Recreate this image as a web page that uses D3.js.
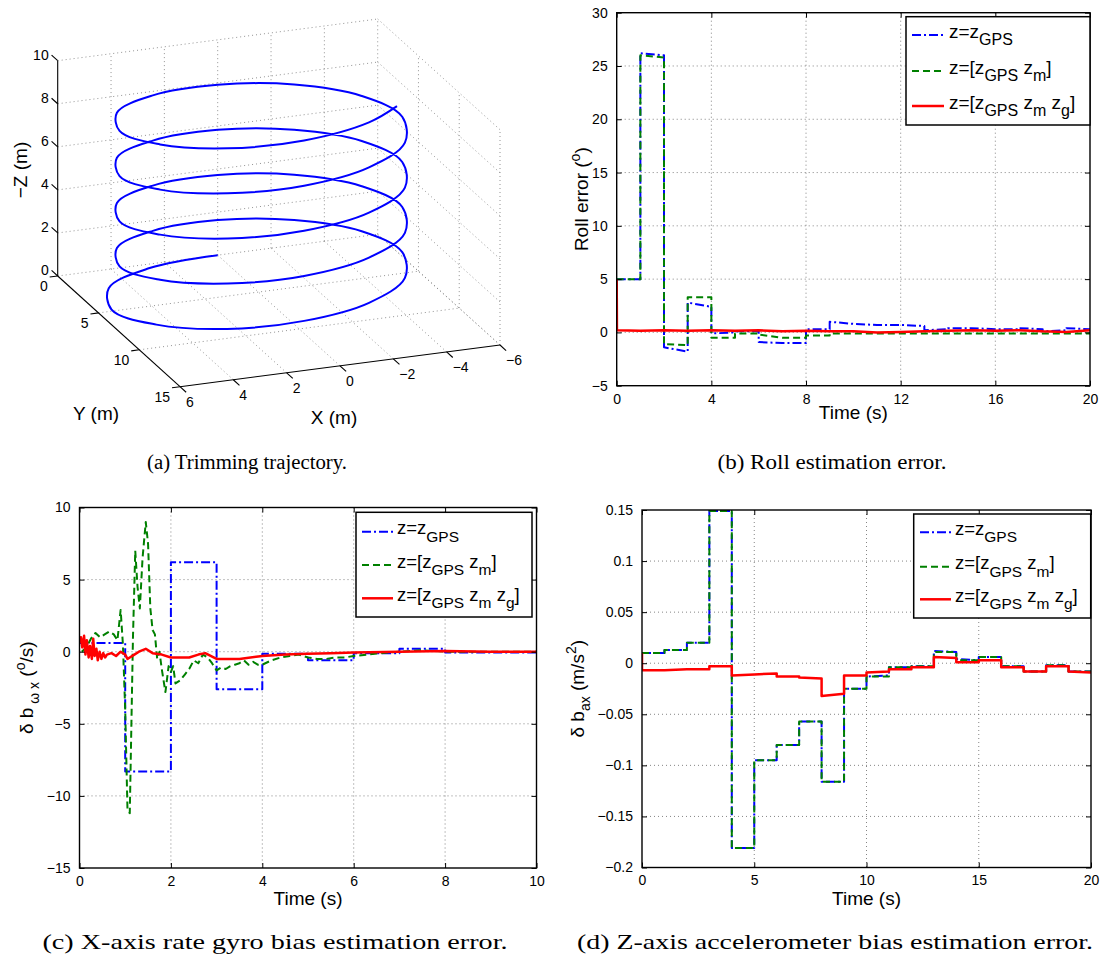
<!DOCTYPE html>
<html><head><meta charset="utf-8">
<script src="https://cdn.jsdelivr.net/npm/d3@7"></script>
<style>
body{margin:0;background:#fff}
svg text{font-family:"Liberation Sans",Arial,Helvetica,sans-serif;fill:#000}
</style>
</head><body>
<svg id="fig" width="1105" height="965"></svg>
<script>
// ================= DATA =================
// (a) trimming trajectory (helix), sampled points read from the picture
const helixX = [0,2.73,4.85,5.60,4.76,2.68,0,-2.65,-4.59,-5.3,-4.59,-2.65,0,2.65,4.59,5.3,4.59,2.65,0,-2.65,-4.59,-5.3,-4.59,-2.65,0,2.65,4.59,5.3,4.59,2.65,0,-2.65,-4.59,-5.3,-4.59,-2.65,0,2.65,4.59,5.3,4.59,2.65,0,-2.65,-4.59,-5.3,-4.59,-2.65,0,2.65,4.59,5.3,4.59,2.65,0,-2.65,-4.06];
const helixY = [0,0.58,2.50,5.30,8.05,9.93,10.6,9.89,7.95,5.3,2.65,0.71,0,0.71,2.65,5.3,7.95,9.89,10.6,9.89,7.95,5.3,2.65,0.71,0,0.71,2.65,5.3,7.95,9.89,10.6,9.89,7.95,5.3,2.65,0.71,0,0.71,2.65,5.3,7.95,9.89,10.6,9.89,7.95,5.3,2.65,0.71,0,0.71,2.65,5.3,7.95,9.89,10.6,9.89,8.71];
const helixZ = [0.00,0.04,0.10,0.19,0.30,0.41,0.58,0.75,0.93,1.10,1.28,1.45,1.63,1.80,1.98,2.15,2.32,2.50,2.67,2.85,3.02,3.20,3.37,3.55,3.72,3.90,4.07,4.24,4.42,4.59,4.77,4.94,5.12,5.29,5.47,5.64,5.82,5.99,6.17,6.34,6.51,6.69,6.86,7.04,7.21,7.39,7.56,7.74,7.91,8.09,8.26,8.44,8.61,8.78,8.96,9.13,9.25];
const trajXTicks = [6,4,2,0,-2,-4,-6];
const trajYTicks = [0,5,10,15];
const trajZTicks = [0,2,4,6,8,10];

// (b) roll estimation error, one step per second
const rollSegT = [0,1,2,3,4,5,6,7,8,9,10,11,12,13,14,15,16,17,18,19];
const rollGpsStart = [5.0,26.2,-1.4,2.8,-0.1,0.1,-0.9,-1.0,0.3,1.0,0.8,0.7,0.7,0.2,0.4,0.4,0.3,0.4,0.1,0.4];
const rollGpsEnd   = [5.0,26.0,-1.8,2.4,0.0,0.1,-1.0,-1.0,0.3,0.8,0.7,0.7,0.6,0.3,0.4,0.3,0.3,0.3,0.2,0.3];
const rollMagStart = [5.0,26.0,-1.1,3.3,-0.5,-0.1,-0.2,-0.5,-0.3,-0.1,-0.1,-0.1,-0.1,-0.1,-0.1,-0.1,-0.1,-0.1,-0.1,-0.1];
const rollMagEnd   = [5.0,25.8,-1.2,3.3,-0.5,-0.1,-0.5,-0.5,-0.3,-0.1,-0.1,-0.1,-0.1,-0.1,-0.1,-0.1,-0.1,-0.1,-0.1,-0.1];
const rollFullT = [0,0.01,1,2,3,4,5,6,7,8,9,10,11,12,13,14,15,16,17,18,19,20];
const rollFullV = [5.0,0.2,0.15,0.2,0.15,0.2,0.15,0.2,0.1,0.15,0.1,0.1,0.0,0.05,0.1,0.15,0.2,0.15,0.2,0.1,0.05,0.2];
const rollXTicks = [0,4,8,12,16,20];
const rollYTicks = [-5,0,5,10,15,20,25,30];

// (c) x-axis rate gyro bias error
const gyroGpsT = [0,1,2,3,4,5,6,7,8,10];
const gyroGpsV = [0.6,-8.3,6.2,-2.6,-0.15,-0.6,-0.1,0.2,-0.05];
const gyroMagT = [0.05,0.15,0.25,0.35,0.45,0.55,0.65,0.75,0.83,0.9,0.95,1.0,1.05,1.1,1.13,1.17,1.22,1.27,1.32,1.38,1.45,1.5,1.55,1.6,1.65,1.7,1.75,1.8,1.88,1.95,2.0,2.05,2.1,2.2,2.3,2.4,2.5,2.6,2.7,2.8,2.9,3.0,3.1,3.2,3.3,3.4,3.5,3.6,3.7,3.8,3.9,4.0,4.2,4.4,4.6,4.8,5.0,5.2,5.4,5.6,5.8,6.0,6.3,6.6,7.0,7.5,8.0,9.0,10.0];
const gyroMagV = [0.0,0.3,0.9,1.3,1.0,1.2,1.4,1.2,0.8,2.9,0.5,-4.0,-11.0,-11.2,-6.0,1.0,7.0,4.5,3.0,6.5,9.0,7.5,3.0,1.5,1.2,-0.5,0.0,-1.2,-2.8,-1.0,-1.4,-1.0,-2.2,-2.0,-1.6,-1.2,-0.6,-0.8,-0.2,-0.4,-0.8,-1.3,-1.1,-1.2,-1.0,-0.9,-0.8,-0.6,-0.9,-0.7,-0.9,-0.9,-0.6,-0.4,-0.3,-0.2,-0.4,-0.5,-0.5,-0.4,-0.4,-0.3,-0.2,-0.1,0.0,0.1,0.0,0.0,0.0];
const gyroFullT = [0,0.03,0.06,0.1,0.13,0.16,0.2,0.23,0.27,0.3,0.33,0.37,0.4,0.44,0.48,0.52,0.56,0.6,0.7,0.8,0.9,1.0,1.05,1.1,1.2,1.3,1.45,1.6,1.8,2.0,2.2,2.4,2.6,2.75,3.0,3.2,3.5,4.0,4.5,5.0,5.5,6.0,7.0,8.0,9.0,10.0];
const gyroFullV = [0.6,1.0,0.3,1.1,-0.2,0.8,-0.4,0.4,-0.5,0.9,-0.3,0.2,-0.6,0.0,-0.5,-0.1,-0.4,-0.2,-0.1,-0.3,0.0,-0.2,-0.5,-0.4,-0.2,0.0,0.2,-0.1,-0.2,-0.4,-0.4,-0.4,-0.2,-0.1,-0.5,-0.5,-0.5,-0.3,-0.2,-0.15,-0.1,-0.05,0.0,0.05,0.0,0.0];
const gyroXTicks = [0,2,4,6,8,10];
const gyroYTicks = [-15,-10,-5,0,5,10];

// (d) z-axis accelerometer bias error, one step per second
const accSegT = [0,1,2,3,4,5,6,7,8,9,10,11,12,13,14,15,16,17,18,19];
const accGpsStart = [0.010,0.013,0.020,0.149,-0.181,-0.095,-0.080,-0.057,-0.116,-0.025,-0.013,-0.004,-0.003,0.012,0.004,0.006,-0.003,-0.008,-0.002,-0.008];
const accGpsEnd   = [0.010,0.013,0.020,0.149,-0.181,-0.095,-0.080,-0.057,-0.116,-0.025,-0.012,-0.004,-0.003,0.011,0.003,0.006,-0.003,-0.008,-0.002,-0.008];
const accMagStart = [0.010,0.013,0.020,0.149,-0.181,-0.095,-0.080,-0.057,-0.116,-0.025,-0.013,-0.004,-0.003,0.011,0.003,0.006,-0.003,-0.008,-0.002,-0.008];
const accMagEnd   = [0.010,0.013,0.020,0.149,-0.181,-0.095,-0.080,-0.057,-0.116,-0.025,-0.013,-0.004,-0.003,0.011,0.003,0.006,-0.003,-0.008,-0.002,-0.008];
const accFullLead = 0.010;
const accFullStart = [-0.007,-0.007,-0.006,-0.003,-0.012,-0.011,-0.013,-0.014,-0.032,-0.012,-0.009,-0.006,-0.004,0.006,0.001,0.003,-0.004,-0.008,-0.003,-0.008];
const accFullEnd   = [-0.007,-0.006,-0.006,-0.003,-0.011,-0.010,-0.013,-0.015,-0.030,-0.012,-0.008,-0.006,-0.004,0.005,0.001,0.003,-0.004,-0.008,-0.003,-0.009];
const accXTicks = [0,5,10,15,20];
const accYTicks = [-0.2,-0.15,-0.1,-0.05,0,0.05,0.1,0.15];

const legendLabels = [
  [["z=z",0],["GPS",1]],
  [["z=[z",0],["GPS",1],[" z",0],["m",1],["]",0]],
  [["z=[z",0],["GPS",1],[" z",0],["m",1],[" z",0],["g",1],["]",0]]
];

// ================= STYLE =================
const sty = {
  gps:  {c:"#0000ff", d:"9,3,2,3", w:2},
  mag:  {c:"#008000", d:"7,4", w:2},
  full: {c:"#ff0000", d:null, w:2.5}
};
const minus = v => String(v).replace("-", "\u2212");
const svg = d3.select("#fig");
svg.append("rect").attr("width",1105).attr("height",965).attr("fill","#fff");

function segPoints(T, S, E){ const p=[]; T.forEach((t,i)=>{p.push([t,S[i]]); p.push([t+1,E[i]]);}); return p; }
function stepPoints(T, V){ const p=[]; V.forEach((v,i)=>{p.push([T[i],v]); p.push([T[i+1],v]);}); return p; }
function zipPts(T, V){ return T.map((t,i)=>[t,V[i]]); }

// rich text with relative baseline shifts (0 normal, 1 subscript, 2 superscript)
function rich(textSel, segs, fs, sfs, subOff, supOff){
  let cur = 0;
  segs.forEach(s=>{
    const off = s[1]===1 ? subOff : s[1]===2 ? -supOff : 0;
    const ts = textSel.append("tspan").attr("dy", off-cur).text(s[0]);
    ts.style("font-size", (s[1]? sfs : fs)+"px");
    cur = off;
  });
}

function drawPanel(o){
  const g = svg.append("g");
  const x = d3.scaleLinear().domain(o.xDomain).range([o.left,o.right]);
  const y = d3.scaleLinear().domain(o.yDomain).range([o.bottom,o.top]);
  const id = "clip"+o.name;
  svg.append("clipPath").attr("id",id).append("rect")
    .attr("x",o.left).attr("y",o.top-1).attr("width",o.right-o.left).attr("height",o.bottom-o.top+2);
  // grid
  const grid = g.append("g").attr("stroke","#666").attr("stroke-width",0.8).attr("stroke-dasharray","1,3");
  o.xTicks.filter(t=>t!==o.xDomain[0]&&t!==o.xDomain[1]).forEach(t=>{
    grid.append("line").attr("x1",x(t)).attr("x2",x(t)).attr("y1",o.top).attr("y2",o.bottom);
  });
  o.yTicks.filter(t=>t!==o.yDomain[0]&&t!==o.yDomain[1]).forEach(t=>{
    grid.append("line").attr("y1",y(t)).attr("y2",y(t)).attr("x1",o.left).attr("x2",o.right);
  });
  // series
  const line = d3.line().x(d=>x(d[0])).y(d=>y(d[1]));
  const sg = g.append("g").attr("clip-path","url(#"+id+")");
  o.series.forEach(s=>{
    sg.append("path").attr("d", line(s.pts)).attr("fill","none")
      .attr("stroke", s.st.c).attr("stroke-width", s.st.w)
      .attr("stroke-dasharray", s.st.d).attr("stroke-linejoin","round");
  });
  // axes (inward ticks)
  const fmt = v => minus(v);
  const ax = (gen, tx, ty) => {
    const a = g.append("g").attr("transform",`translate(${tx},${ty})`).call(gen);
    a.select(".domain").remove();
    a.selectAll("line").attr("stroke","#000").attr("stroke-width",1);
    a.selectAll("text").style("font-size","14px").style("font-family",'"Liberation Sans",Arial,sans-serif').attr("fill","#000");
    return a;
  };
  ax(d3.axisBottom(x).tickValues(o.xTicks).tickSize(-5).tickPadding(8).tickFormat(fmt), 0, o.bottom);
  ax(d3.axisTop(x).tickValues(o.xTicks).tickSize(-5).tickFormat(""), 0, o.top);
  ax(d3.axisLeft(y).tickValues(o.yTicks).tickSize(-5).tickPadding(9).tickFormat(fmt), o.left, 0);
  ax(d3.axisRight(y).tickValues(o.yTicks).tickSize(-5).tickFormat(""), o.right, 0);
  g.append("rect").attr("x",o.left).attr("y",o.top).attr("width",o.right-o.left).attr("height",o.bottom-o.top)
    .attr("fill","none").attr("stroke","#000").attr("stroke-width",1.4);
  // x label
  g.append("text").attr("x",(o.left+o.right)/2).attr("y",o.xLabelY).attr("text-anchor","middle")
    .style("font-size","19px").text("Time (s)");
  // y label
  const yl = g.append("text").attr("transform",`translate(${o.yLabelX},${(o.top+o.bottom)/2}) rotate(-90)`)
    .attr("text-anchor","middle").style("font-size","19px");
  rich(yl, o.yLabel, 19, 14, 6, 8);
  // legend
  const L = o.legend;
  const lg = g.append("g");
  lg.append("rect").attr("x",L.x).attr("y",L.y).attr("width",L.w).attr("height",L.h)
    .attr("fill","#fff").attr("stroke","#000").attr("stroke-width",1.5);
  [sty.gps, sty.mag, sty.full].forEach((st,i)=>{
    const ly = L.rows[i];
    lg.append("line").attr("x1",L.lx1).attr("x2",L.lx2).attr("y1",ly).attr("y2",ly)
      .attr("stroke",st.c).attr("stroke-width",st.w).attr("stroke-dasharray",st.d);
    const t = lg.append("text").attr("x",L.tx).attr("y",ly+2.5).style("font-size",L.fs+"px");
    rich(t, legendLabels[i], L.fs, L.fs-3, 7.5, 0);
  });
}

// ================= PANEL (b) =================
drawPanel({
  name:"b", xDomain:[0,20], yDomain:[-5,30], left:616.7, right:1090, top:12.7, bottom:385.7,
  xTicks:rollXTicks, yTicks:rollYTicks, xLabelY:419, yLabelX:588,
  yLabel:[["Roll error (",0],["o",2],[")",0]],
  series:[
    {pts:segPoints(rollSegT, rollGpsStart, rollGpsEnd), st:sty.gps},
    {pts:segPoints(rollSegT, rollMagStart, rollMagEnd), st:sty.mag},
    {pts:zipPts(rollFullT, rollFullV), st:sty.full}
  ],
  legend:{x:906, y:16.7, w:184, h:108.3, lx1:912, lx2:944, tx:949, rows:[35,71,106], fs:19}
});

// ================= PANEL (c) =================
drawPanel({
  name:"c", xDomain:[0,10], yDomain:[-15,10], left:79.5, right:536.5, top:507.5, bottom:868,
  xTicks:gyroXTicks, yTicks:gyroYTicks, xLabelY:905, yLabelX:33,
  yLabel:[["\u03b4 b",0],[" \u03c9 x",1],[" (",0],["o",2],["/s)",0]],
  series:[
    {pts:stepPoints(gyroGpsT, gyroGpsV), st:sty.gps},
    {pts:zipPts(gyroMagT, gyroMagV), st:sty.mag},
    {pts:zipPts(gyroFullT, gyroFullV), st:sty.full}
  ],
  legend:{x:356, y:512.3, w:176, h:104.7, lx1:362, lx2:393, tx:397, rows:[531.7,565,598.3], fs:18.5}
});

// ================= PANEL (d) =================
drawPanel({
  name:"d", xDomain:[0,20], yDomain:[-0.2,0.15], left:642, right:1091, top:510, bottom:867.5,
  xTicks:accXTicks, yTicks:accYTicks, xLabelY:905, yLabelX:584,
  yLabel:[["\u03b4 b",0],["ax",1],[" (m/s",0],["2",2],[")",0]],
  series:[
    {pts:segPoints(accSegT, accGpsStart, accGpsEnd), st:sty.gps},
    {pts:segPoints(accSegT, accMagStart, accMagEnd), st:sty.mag},
    {pts:[[0,accFullLead]].concat(segPoints(accSegT, accFullStart, accFullEnd)), st:sty.full}
  ],
  legend:{x:913.7, y:514, w:177, h:104, lx1:920, lx2:951, tx:955, rows:[532.3,566.7,599.3], fs:18.5}
});

// ================= PANEL (a) : 3D helix =================
(function(){
  const g = svg.append("g");
  const O = [57.7, 276];
  const EX = [320, -41.7], EY = [122.3, 110.7], EZ = [0, -215.3];
  const fx = d3.scaleLinear().domain([6,-6]).range([0,1]);
  const fy = d3.scaleLinear().domain([0,15]).range([0,1]);
  const fz = d3.scaleLinear().domain([0,10]).range([0,1]);
  const P = (X,Y,Z) => [O[0]+fx(X)*EX[0]+fy(Y)*EY[0]+fz(Z)*EZ[0], O[1]+fx(X)*EX[1]+fy(Y)*EY[1]+fz(Z)*EZ[1]];
  const grid = g.append("g").attr("stroke","#777").attr("stroke-width",0.8).attr("stroke-dasharray","1,3").attr("fill","none");
  const seg = (a,b,sel) => (sel||grid).append("line").attr("x1",a[0]).attr("y1",a[1]).attr("x2",b[0]).attr("y2",b[1]);
  // back wall Y=0
  trajXTicks.filter(v=>v!==6).forEach(X=>seg(P(X,0,0),P(X,0,10)));
  trajZTicks.forEach(Z=>seg(P(6,0,Z),P(-6,0,Z)));
  // right wall X=-6
  trajYTicks.filter(v=>v!==0).forEach(Y=>seg(P(-6,Y,0),P(-6,Y,10)));
  trajZTicks.forEach(Z=>seg(P(-6,0,Z),P(-6,15,Z)));
  // floor Z=0
  trajXTicks.filter(v=>v!==6).forEach(X=>seg(P(X,0,0),P(X,15,0)));
  trajYTicks.filter(v=>v!==0 && v!==15).forEach(Y=>seg(P(6,Y,0),P(-6,Y,0)));
  // axes
  const ax = g.append("g").attr("stroke","#000").attr("stroke-width",1.1);
  seg(P(6,0,0),P(6,0,10),ax);
  seg(P(6,0,0),P(6,15,0),ax);
  seg(P(6,15,0),P(-6,15,0),ax);
  trajZTicks.forEach(Z=>seg(P(6,0,Z),P(6,-0.75,Z),ax));
  trajYTicks.forEach(Y=>seg(P(6,Y,0),P(6.3,Y,0),ax));
  trajXTicks.forEach(X=>seg(P(X,15,0),P(X,15.75,0),ax));
  const tl = g.append("g").style("font-size","14px");
  trajZTicks.forEach(Z=>{ const p=P(6,0,Z);
    tl.append("text").attr("x",p[0]-9).attr("y",p[1]-6).attr("dy","0.35em").attr("text-anchor","end").text(minus(Z)); });
  trajYTicks.forEach(Y=>{ const p=P(6,Y,0);
    tl.append("text").attr("x",p[0]-10).attr("y",p[1]+10).attr("dy","0.35em").attr("text-anchor","end").text(minus(Y)); });
  trajXTicks.forEach(X=>{ const p=P(X,15,0);
    tl.append("text").attr("x",p[0]+6).attr("y",p[1]+15).attr("dy","0.35em").attr("text-anchor","start").text(minus(X)); });
  // axis labels
  g.append("text").attr("transform","translate(27,170) rotate(-90)").attr("text-anchor","middle").style("font-size","19px").text("\u2212Z (m)");
  g.append("text").attr("x",96).attr("y",420).attr("text-anchor","middle").style("font-size","19px").text("Y (m)");
  g.append("text").attr("x",334).attr("y",424).attr("text-anchor","middle").style("font-size","19px").text("X (m)");
  // helix
  const pts = helixX.map((X,i)=>P(X,helixY[i],helixZ[i]));
  g.append("path").attr("d", d3.line().curve(d3.curveCatmullRom.alpha(0.5))(pts))
    .attr("fill","none").attr("stroke","#0000ff").attr("stroke-width",2);
})();

// ================= CAPTIONS =================
const caps = [
  {x:247, y:469, w:200, fs:20, t:"(a)  Trimming trajectory."},
  {x:832, y:469, w:229, fs:20, t:"(b)  Roll estimation error."},
  {x:275, y:949, w:465, fs:22, t:"(c)  X-axis rate gyro bias estimation error."},
  {x:835, y:949, w:516, fs:22, t:"(d)  Z-axis accelerometer bias estimation error."}
];
caps.forEach(c=>svg.append("text").attr("x",c.x).attr("y",c.y)
  .attr("text-anchor","middle").attr("textLength",c.w).attr("lengthAdjust","spacingAndGlyphs")
  .style("font-size",c.fs+"px").style("font-family",'"Liberation Serif","DejaVu Serif",serif').text(c.t));
</script>
</body></html>
